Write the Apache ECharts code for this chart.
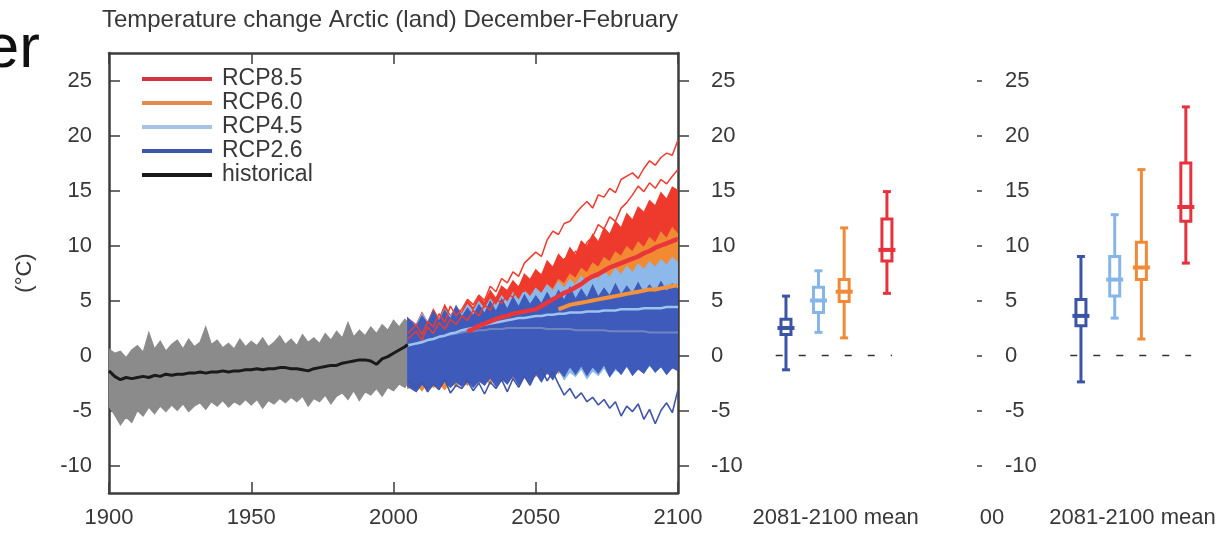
<!DOCTYPE html>
<html><head><meta charset="utf-8">
<script src="https://cdn.jsdelivr.net/npm/echarts@6/dist/echarts.min.js"></script>
<style>html,body{margin:0;padding:0;background:#fff}#c{width:1231px;height:535px}</style>
</head><body><div id="c"></div><script>
// ---------- DATA ----------
const titleText = 'Temperature change Arctic (land) December-February';
const yTicks = [-10,-5,0,5,10,15,20,25];
const scenarioNames = ['RCP8.5','RCP6.0','RCP4.5','RCP2.6','historical'];

const histYears = [1900,1902,1904,1906,1908,1910,1912,1914,1916,1918,1920,1922,1924,1926,1928,1930,1932,1934,1936,1938,1940,1942,1944,1946,1948,1950,1952,1954,1956,1958,1960,1962,1964,1966,1968,1970,1972,1974,1976,1978,1980,1982,1984,1986,1988,1990,1992,1994,1996,1998,2000,2002,2004,2005];
const histUpper = [0.6,0.2,0.4,-0.2,0.5,0.9,0.3,2.1,0.6,1.3,0.4,1.0,1.4,0.6,1.5,0.8,1.2,2.6,1.0,1.4,0.7,1.1,0.6,1.5,0.8,1.3,0.9,1.6,0.8,1.2,1.8,1.0,1.5,0.9,1.9,1.2,1.6,1.1,2.0,1.4,2.2,1.6,3.0,1.7,2.3,1.8,2.6,2.0,2.8,2.3,3.2,2.6,3.3,3.0];
const histLower = [-4.6,-5.4,-6.3,-5.6,-6.1,-5.0,-5.5,-4.7,-5.3,-4.6,-5.1,-4.5,-5.0,-4.4,-5.1,-4.6,-4.3,-4.9,-4.2,-4.6,-4.1,-4.7,-4.2,-4.5,-4.0,-4.5,-4.0,-4.8,-4.1,-4.4,-3.9,-4.3,-3.8,-4.2,-3.7,-4.6,-3.9,-4.2,-3.6,-4.4,-3.7,-3.4,-4.0,-3.2,-4.1,-3.3,-3.6,-3.0,-3.7,-2.9,-3.2,-2.6,-2.9,-2.5];
const histMean = [-1.4,-1.9,-2.2,-2.0,-2.1,-2.0,-1.9,-2.0,-1.8,-1.9,-1.7,-1.8,-1.7,-1.7,-1.6,-1.6,-1.5,-1.6,-1.5,-1.5,-1.4,-1.5,-1.4,-1.4,-1.3,-1.3,-1.2,-1.3,-1.2,-1.2,-1.1,-1.1,-1.2,-1.2,-1.3,-1.4,-1.2,-1.1,-1.0,-0.9,-0.9,-0.7,-0.6,-0.5,-0.4,-0.4,-0.5,-0.8,-0.3,-0.1,0.2,0.5,0.8,1.0];

const futYears = [2005,2008,2010,2012,2014,2016,2018,2020, 2022,2024,2026,2028,2030,2032,2034,2036, 2038,2040,2042,2044,2046,2048,2050,2052, 2054,2056,2058,2060,2062,2064,2066,2068, 2070,2072,2074,2076,2078,2080,2082,2084, 2086,2088,2090,2092,2094,2096,2098,2100];

const rcp85Upper = [3.4,2.8,3.9,3.0,4.2,3.3,4.6,3.6, 4.4,3.9,5.0,4.3,5.4,4.8,5.9,5.2, 6.3,5.9,6.8,6.2,7.4,6.9,7.8,7.3, 8.6,8.0,9.2,8.6,9.8,9.1,10.4,9.9, 11.0,10.3,11.6,11.0,12.2,11.6,12.9,12.3, 13.5,13.0,14.1,13.6,14.8,14.2,15.3,15.0];
const rcp85Lower = [-2.6,-2.3,-2.8,-2.1,-2.5,-1.9,-2.3,-1.6, -2.0,-1.4,-1.7,-1.0,-1.3,-0.7,-1.0,-0.3, -0.6,0.1,-0.2,0.5,0.3,0.9,0.7,1.3, 1.1,1.7,1.5,2.1,1.9,2.5,2.3,2.9, 2.7,3.3,3.1,3.7,3.5,4.1,3.9,4.5, 4.3,4.9,4.7,5.2,5.0,5.5,5.3,5.8];
const rcp85ModelA = [2.0,2.8,1.9,3.1,2.6,3.8,3.0,4.5, 3.6,4.2,5.1,4.6,5.5,5.0,6.3,5.8, 7.0,6.6,7.6,7.2,8.4,8.9,9.4,9.0, 10.5,11.3,11.0,12.0,12.2,12.9,13.5,14.0, 13.4,14.6,14.4,15.2,14.8,16.0,16.3,16.6, 16.1,17.0,17.7,17.3,18.0,18.4,18.2,19.6];
const rcp85ModelB = [1.5,2.2,1.4,2.6,2.0,3.0,2.4,3.3, 2.8,3.6,3.2,4.1,3.6,4.6,4.1,5.2, 4.7,5.6,5.3,6.3,5.8,6.8,6.5,7.4, 7.0,8.1,7.6,8.8,8.4,9.5,9.0,10.3, 10.8,11.9,11.5,12.6,12.2,13.4,13.9,14.6, 15.4,14.9,15.7,15.2,16.0,15.6,16.3,16.9];
const rcp85Mean = [null,null,null,null,null,null,null,null, null,null,2.2,2.4,2.7,2.9,3.1,3.3, 3.5,3.6,3.8,3.9,4.0,4.1,4.2,4.5, 4.8,5.1,5.4,5.7,5.9,6.2,6.5,6.9, 7.2,7.4,7.7,8.0,8.2,8.4,8.6,8.8, 9.0,9.3,9.5,9.8,10.0,10.2,10.4,10.6];

const rcp60Upper = [3.0,2.5,3.3,2.8,3.7,3.0,3.9,3.3, 4.0,3.5,4.3,3.8,4.5,4.0,4.8,4.3, 5.0,4.6,5.3,4.9,5.6,5.2,6.0,5.6, 6.4,6.0,6.9,6.5,7.4,7.0,7.9,7.5, 8.4,8.0,8.9,8.5,9.4,9.0,9.9,9.4, 10.3,9.8,10.7,10.2,11.2,10.6,11.6,11.0];
const rcp60Lower = [-3.0,-2.6,-3.2,-2.4,-2.9,-2.5,-3.1,-2.3, -2.8,-2.2,-2.7,-2.1,-2.5,-2.0,-2.6,-1.9, -2.3,-1.7,-2.2,-1.6,-2.0,-1.5,-1.9,-1.3, -1.7,-1.2,-1.6,-1.1,-1.5,-0.9,-1.3,-0.8, -1.2,-0.6,-1.0,-0.5,-0.9,-0.3,-0.7,-0.2, -0.6,0.0,-0.4,0.1,-0.3,0.2,-0.1,0.3];
const rcp60Mean = [null,null,null,null,null,null,null,null, null,null,null,null,null,null,null,null, null,null,null,null,null,null,null,null, null,null,4.2,4.4,4.6,4.7,4.8,4.9, 5.0,5.1,5.2,5.3,5.4,5.5,5.6,5.7, 5.8,5.9,6.0,6.0,6.1,6.2,6.3,6.4];

const rcp45Upper = [3.3,2.7,3.8,3.0,3.9,3.2,4.2,3.5, 4.4,3.7,4.6,4.0,4.9,4.2,5.1,4.5, 5.4,4.8,5.7,5.0,5.9,5.3,6.1,5.6, 6.4,5.8,6.7,6.1,6.9,6.4,7.2,6.6, 7.4,6.9,7.6,7.1,7.9,7.3,8.1,7.5, 8.3,7.8,8.5,8.0,8.7,8.2,8.9,8.4];
const rcp45Lower = [-2.5,-2.9,-2.3,-2.8,-2.2,-2.7,-2.0,-2.6, -2.1,-2.4,-1.8,-2.5,-1.9,-2.3,-1.7,-2.4, -1.8,-2.2,-1.6,-2.3,-1.7,-2.2,-1.6,-2.3, -1.5,-2.0,-1.3,-2.2,-1.5,-1.9,-1.2,-2.1, -1.4,-1.8,-1.1,-1.9,-1.3,-1.6,-1.0,-1.7, -1.2,-1.5,-0.9,-1.4,-0.8,-1.3,-0.7,-1.1];
const rcp45Mean = [0.9,1.1,1.2,1.4,1.5,1.7,1.8,2.0, 2.1,2.3,2.4,2.5,2.6,2.8,2.9,3.0, 3.1,3.2,3.3,3.4,3.4,3.5,3.6,3.6, 3.7,3.7,3.8,3.8,3.9,3.9,3.9,4.0, 4.0,4.0,4.1,4.1,4.1,4.2,4.2,4.2, 4.2,4.3,4.3,4.3,4.3,4.4,4.4,4.4];

const rcp26Upper = [3.4,2.6,3.6,2.9,4.0,3.1,4.1,3.3, 4.5,3.5,4.3,3.6,4.6,3.8,4.9,4.0, 5.1,4.2,5.3,4.4,5.5,4.6,5.4,4.7, 5.7,4.8,5.9,5.0,6.2,5.1,6.0,5.2, 6.4,5.3,6.1,5.4,6.5,5.5,6.3,5.6, 6.6,5.6,6.4,5.7,6.7,5.8,6.5,6.0];
const rcp26Lower = [-2.8,-3.3,-2.6,-3.1,-2.5,-3.0,-2.3,-2.9, -2.4,-2.8,-2.2,-2.9,-2.3,-2.7,-2.0,-2.8, -2.1,-2.6,-1.8,-2.7,-1.9,-2.5,-1.6,-2.4, -1.5,-2.2,-1.3,-1.9,-1.0,-1.7,-0.9,-1.8, -1.0,-1.6,-0.8,-1.9,-1.1,-1.7,-0.9,-1.8, -1.2,-1.6,-0.8,-1.5,-1.0,-1.7,-1.1,-1.4];
const rcp26ModelLow = [-2.2,-3.0,-2.4,-3.3,-2.6,-3.1,-2.2,-3.4, -2.7,-3.0,-2.3,-3.2,-2.5,-3.5,-2.4,-3.0, -2.2,-3.3,-2.1,-2.9,-1.9,-2.7,-1.6,-1.2, -2.3,-1.5,-2.6,-3.6,-3.0,-3.9,-3.4,-4.2, -3.8,-4.5,-4.0,-4.8,-4.2,-5.5,-4.6,-5.1, -4.4,-5.8,-4.9,-6.2,-5.0,-4.3,-5.2,-3.1];
const rcp26Mean = [1.0,1.1,1.3,1.4,1.5,1.7,1.8,1.9, 2.0,2.1,2.2,2.2,2.3,2.3,2.4,2.4, 2.4,2.5,2.5,2.5,2.5,2.5,2.5,2.5, 2.4,2.4,2.4,2.4,2.4,2.3,2.3,2.3, 2.3,2.3,2.3,2.2,2.2,2.2,2.2,2.2, 2.2,2.2,2.1,2.1,2.1,2.1,2.1,2.1];

// box plots (2081-2100 mean): [low, q25, median, q75, high] for RCP2.6, 4.5, 6.0, 8.5
const rcpForcing = [2.6, 4.5, 6.0, 8.5];
const boxPanelA = [[-1.3,1.9,2.5,3.3,5.4],[2.1,3.9,5.0,6.2,7.7],[1.6,4.9,5.8,6.9,11.6],[5.65,8.6,9.6,12.4,14.9]];
const boxPanelB = [[-2.4,2.7,3.6,5.1,9.0],[3.4,5.4,6.9,9.0,12.8],[1.5,6.9,8.0,10.3,16.9],[8.4,12.2,13.5,17.5,22.6]];
const zeroLineSpan = [2.0, 8.8];
const boxLabel = '2081-2100 mean';

// ---------- STYLE ----------
const FONT = 'Liberation Sans, Arial, sans-serif';
const AX = '#3d3d3d';
const TXT = '#383838';
const C85 = '#ee3a2c', C60 = '#f28a33', C45 = '#8cb9ea', C26 = '#3e5bbb';
const boxColors = ['#3c54a5', '#86b6e8', '#f08a38', '#e6323e'];
const legendColors = ['#d3343d', '#e58a48', '#a6c3e6', '#3b58a8', '#1a1a1a'];

const chart = echarts.init(document.getElementById('c'), null, {renderer: 'canvas'});

function band(name, years, upper, lower, color, z) {
  return {
    type: 'custom', name: name, xAxisIndex: 0, yAxisIndex: 0, z: z, silent: true, clip: true,
    data: [0],
    renderItem: function (params, api) {
      const pts = [];
      for (let i = 0; i < years.length; i++) pts.push(api.coord([years[i], upper[i]]));
      for (let i = years.length - 1; i >= 0; i--) pts.push(api.coord([years[i], lower[i]]));
      return {type: 'polygon', shape: {points: pts}, style: {fill: color, stroke: color, lineWidth: 1.2}};
    }
  };
}
function line(name, years, vals, color, width, z) {
  return {
    type: 'line', name: name, xAxisIndex: 0, yAxisIndex: 0, z: z, silent: true,
    showSymbol: false, symbol: 'none', animation: false,
    data: years.map(function (y, i) { return [y, vals[i]]; }),
    lineStyle: {color: color, width: width}, itemStyle: {color: color}
  };
}
function boxSeries(vals, xi, yi) {
  return {
    type: 'custom', xAxisIndex: xi, yAxisIndex: yi, z: 5, silent: true,
    data: rcpForcing.map(function (f, i) { return [f].concat(vals[i]); }),
    renderItem: function (params, api) {
      const x = api.value(0);
      const pL = api.coord([x, api.value(1)]), p1 = api.coord([x, api.value(2)]),
            pM = api.coord([x, api.value(3)]), p3 = api.coord([x, api.value(4)]),
            pH = api.coord([x, api.value(5)]);
      const c = boxColors[params.dataIndex];
      const cx = pL[0];
      return {type: 'group', children: [
        {type: 'line', shape: {x1: cx, y1: pL[1], x2: cx, y2: pH[1]}, style: {stroke: c, lineWidth: 3}},
        {type: 'line', shape: {x1: cx - 4, y1: pL[1], x2: cx + 4, y2: pL[1]}, style: {stroke: c, lineWidth: 3}},
        {type: 'line', shape: {x1: cx - 4, y1: pH[1], x2: cx + 4, y2: pH[1]}, style: {stroke: c, lineWidth: 3}},
        {type: 'rect', shape: {x: cx - 5, y: p3[1], width: 10, height: p1[1] - p3[1]}, style: {fill: '#fff', stroke: c, lineWidth: 3}},
        {type: 'line', shape: {x1: cx - 8.5, y1: pM[1], x2: cx + 8.5, y2: pM[1]}, style: {stroke: c, lineWidth: 4}}
      ]};
    }
  };
}
function zeroLine(xi, yi) {
  return {
    type: 'line', xAxisIndex: xi, yAxisIndex: yi, silent: true, symbol: 'none', z: 3,
    data: [[zeroLineSpan[0], 0], [zeroLineSpan[1], 0]],
    lineStyle: {color: '#333', width: 1.6, type: [7, 16]}
  };
}

const yRange = {min: -12.5, max: 27.5};
const labelFont = {fontSize: 22, color: TXT, fontFamily: FONT};
const plain = function (v) { return String(v); };

const option = {
  animation: false,
  backgroundColor: '#fff',
  textStyle: {fontFamily: FONT},
  grid: [
    {left: 109, top: 53, width: 569, height: 440},
    {left: 758.6, top: 53, width: 154, height: 440},
    {left: 1052.5, top: 53, width: 160, height: 440}
  ],
  legend: {
    left: 137, top: 62, orient: 'vertical', selectedMode: false,
    itemWidth: 70, itemHeight: 4, itemGap: 0,
    textStyle: {fontSize: 23, color: TXT, fontFamily: FONT, lineHeight: 24, padding: [0, 0, 0, 5]},
    data: scenarioNames.map(function (n, i) { return {name: n, icon: 'rect', itemStyle: {color: legendColors[i]}}; })
  },
  xAxis: [
    {gridIndex: 0, type: 'value', min: 1900, max: 2100, interval: 50, position: 'bottom',
     axisLine: {onZero: false, lineStyle: {color: AX, width: 2.5}},
     axisTick: {inside: true, length: 11, lineStyle: {color: AX, width: 1.5}},
     axisLabel: Object.assign({margin: 14, formatter: plain}, labelFont), splitLine: {show: false}},
    {gridIndex: 0, type: 'value', min: 1900, max: 2100, interval: 50, position: 'top',
     axisLine: {onZero: false, lineStyle: {color: AX, width: 2.5}},
     axisTick: {inside: true, length: 11, lineStyle: {color: AX, width: 1.5}},
     axisLabel: {show: false}, splitLine: {show: false}},
    {gridIndex: 1, type: 'value', min: 1, max: 10, axisLine: {show: false, onZero: false}, axisTick: {show: false},
     axisLabel: {show: false}, splitLine: {show: false},
     name: boxLabel, nameLocation: 'middle', nameGap: 14, nameTextStyle: labelFont},
    {gridIndex: 2, type: 'value', min: 1, max: 10, axisLine: {show: false, onZero: false}, axisTick: {show: false},
     axisLabel: {show: false}, splitLine: {show: false},
     name: boxLabel, nameLocation: 'middle', nameGap: 14, nameTextStyle: labelFont}
  ],
  yAxis: [
    Object.assign({gridIndex: 0, type: 'value', position: 'left',
     axisLine: {show: true, onZero: false, lineStyle: {color: AX, width: 2.5}},
     axisTick: {show: true, inside: true, length: 11, customValues: yTicks, lineStyle: {color: AX, width: 1.5}},
     axisLabel: Object.assign({margin: 17, customValues: yTicks, formatter: plain}, labelFont),
     splitLine: {show: false},
     name: '(°C)', nameLocation: 'middle', nameRotate: 90, nameGap: 73,
     nameTextStyle: {fontSize: 22, color: TXT, fontFamily: FONT}}, yRange),
    Object.assign({gridIndex: 0, type: 'value', position: 'right',
     axisLine: {show: true, onZero: false, lineStyle: {color: AX, width: 2.5}},
     axisTick: {show: true, inside: false, length: 11, customValues: yTicks, lineStyle: {color: AX, width: 1.5}},
     axisLabel: Object.assign({margin: 33, customValues: yTicks, formatter: plain}, labelFont),
     splitLine: {show: false}}, yRange),
    Object.assign({gridIndex: 1, type: 'value', show: false, axisLine: {onZero: false}, splitLine: {show: false}}, yRange),
    Object.assign({gridIndex: 2, type: 'value', position: 'left', offset: 75.5,
     axisLine: {show: false, onZero: false},
     axisTick: {show: true, inside: true, length: 5, customValues: yTicks, lineStyle: {color: AX, width: 1.5}},
     axisLabel: Object.assign({inside: true, margin: 28, customValues: yTicks, formatter: plain}, labelFont),
     splitLine: {show: false}}, yRange)
  ],
  graphic: [
    {type: 'text', x: 390, y: 8, style: {text: titleText, fontSize: 24, fill: TXT, fontFamily: FONT, textAlign: 'center'}},
    {type: 'text', x: 40, y: 81, style: {text: 'er', fontSize: 62, fill: '#111', fontFamily: FONT, textAlign: 'right', textVerticalAlign: 'bottom'}},
    {type: 'text', x: 992, y: 507, style: {text: '00', fontSize: 22, fill: TXT, fontFamily: FONT, textAlign: 'center'}}
  ],
  series: [
    band('histBand', histYears, histUpper, histLower, '#8b8b8b', 2),
    band('band85', futYears, rcp85Upper, rcp85Lower, C85, 2),
    line('m85a', futYears, rcp85ModelA, '#f03a2e', 1.5, 2),
    line('m85b', futYears, rcp85ModelB, '#f03a2e', 1.5, 2),
    band('band60', futYears, rcp60Upper, rcp60Lower, C60, 2),
    band('band45', futYears, rcp45Upper, rcp45Lower, C45, 2),
    band('band26', futYears, rcp26Upper, rcp26Lower, C26, 2),
    line('m26low', futYears, rcp26ModelLow, '#4055a8', 1.6, 2),
    line('RCP2.6', futYears, rcp26Mean, '#7285c2', 2, 3),
    line('RCP4.5', futYears, rcp45Mean, '#9cc4ee', 2.5, 3),
    line('RCP6.0', futYears, rcp60Mean, '#f3923a', 4, 3),
    line('RCP8.5', futYears, rcp85Mean, '#e8363a', 4.5, 3),
    line('historical', histYears, histMean, '#1a1a1a', 3, 3),
    zeroLine(2, 2),
    boxSeries(boxPanelA, 2, 2),
    zeroLine(3, 3),
    boxSeries(boxPanelB, 3, 3)
  ]
};
chart.setOption(option);
</script></body></html>
